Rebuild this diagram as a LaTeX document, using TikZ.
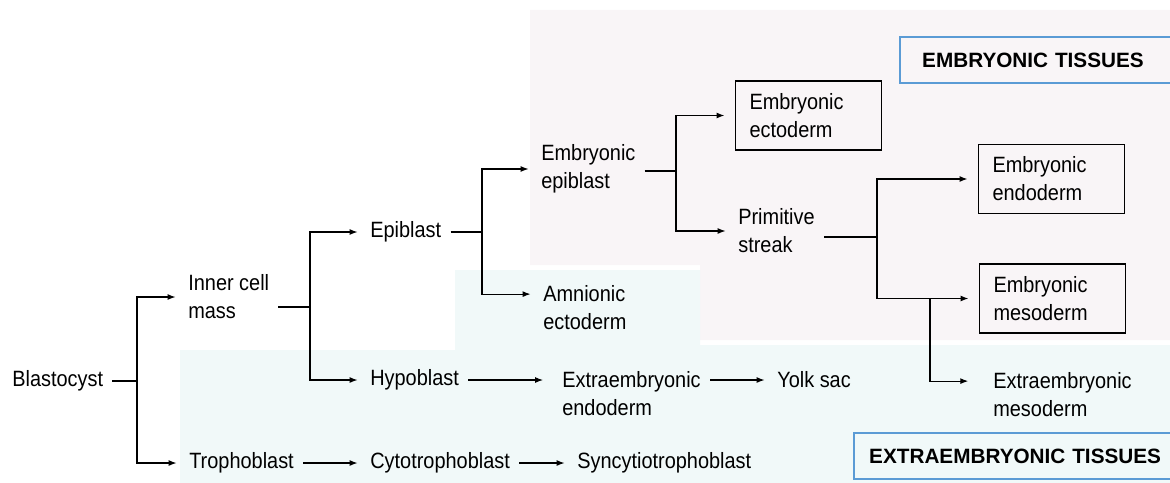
\documentclass[tikz,border=0pt]{standalone}
\usepackage{fontspec}
\setmainfont{Liberation Sans}[FakeStretch=0.9]
\newfontfamily\tagfont{Liberation Sans}
\usetikzlibrary{arrows.meta}
\definecolor{pinkbg}{HTML}{F9F5F7}
\definecolor{cyanbg}{HTML}{F1F9F9}
\definecolor{tagblue}{HTML}{5B9BD5}

\begin{document}
\begin{tikzpicture}[x=0.02cm,y=-0.02cm,line width=0.6pt,
  font=\fontsize{12.6}{15.9}\selectfont,
  txt/.style={anchor=west,align=left,inner xsep=5pt,inner ysep=1pt},
  box/.style={draw,anchor=west,align=left,inner xsep=0.28cm,text width=2.36cm,minimum height=1.38cm},
  tag/.style={draw=tagblue,line width=1.4pt,anchor=west,align=left,minimum height=0.92cm,
    font=\tagfont\fontsize{11.8}{14}\selectfont\bfseries},
  arr/.style={-{Latex[length=4.5pt,width=3.4pt]},shorten >=2pt}]
        \useasboundingbox (0,0) rectangle (1170,483);

        \fill[pinkbg] (530,10) -- (1170,10) -- (1170,340) -- (700,340) -- (700,265) -- (530,265) -- cycle;
        \fill[cyanbg] (455,270) -- (700,270) -- (700,345) -- (1170,345) -- (1170,483) -- (180,483) -- (180,350) -- (455,350) -- cycle;

        \path
        (3,381) node[txt](blast) {Blastocyst}
        (179,297) node[txt](icm) {Inner cell\\mass}
        (180,463) node[txt](troph) {Trophoblast}
        (361,232) node[txt](epi) {Epiblast}
        (361,380) node[txt](hypo) {Hypoblast}
        (361,463) node[txt](cyto) {Cytotrophoblast}
        (532,169) node[txt](eepi) {Embryonic\\epiblast}
        (534,308) node[txt](amn) {Amnionic\\ectoderm}
        (553,394) node[txt](xendo) {Extraembryonic\\endoderm}
        (568,463) node[txt](sync) {Syncytiotrophoblast}
        (768,380) node[txt](yolk) {Yolk sac}
        (729,231) node[txt](prim) {Primitive\\streak}
        (984,395) node[txt](xmeso) {Extraembryonic\\mesoderm}
        ;

        \path
        (735,115.5) node[box](ecto) {Embryonic\\ectoderm}
        (978,179) node[box](endo) {Embryonic\\endoderm}
        (979,298.5) node[box](meso) {Embryonic\\mesoderm}
        ;

        \node[tag,inner xsep=0.44cm,text width=6cm] (embt) at (899,60) {EMBRYONIC TISSUES};
        \node[tag,inner xsep=0.3cm,text width=6.4cm] (extt) at (853,456) {EXTRAEMBRYONIC TISSUES};

        \coordinate (j1) at (137,381);
        \coordinate (j2) at (310,307);
        \coordinate (j3) at (482,232);
        \coordinate (j4) at (676,171);
        \coordinate (j5) at (877,237);
        \coordinate (j6) at (930,298.5);

        \draw (blast) -- (j1);
        \draw[arr] (j1) |- (icm);
        \draw[arr] (j1) |- (troph);
        \draw (icm.east |- j2) -- (j2);
        \draw[arr] (j2) |- (epi);
        \draw[arr] (j2) |- (hypo);
        \draw (epi) -- (j3);
        \draw[arr] (j3) |- (eepi);
        \draw[arr] (j3) |- ([yshift=7.9pt]amn.west);
        \draw (eepi.east |- j4) -- (j4);
        \draw[arr,shorten >=6pt] (j4) |- (ecto);
        \draw[arr] (j4) |- (prim);
        \draw (prim.east |- j5) -- (j5);
        \draw[arr,shorten >=6pt] (j5) |- (endo);
        \draw[arr,shorten >=6pt] (j5) |- (meso);
        \draw[arr,shorten >=9pt] (j6) |- ([yshift=7.9pt]xmeso.west);
        \draw[arr,shorten >=5.7pt] (hypo) -- (hypo -| xendo.west);
        \draw[arr] (xendo.east |- yolk) -- (yolk);
        \draw[arr] (troph) -- (cyto);
        \draw[arr] (cyto) -- (sync);
\end{tikzpicture}
\end{document}
